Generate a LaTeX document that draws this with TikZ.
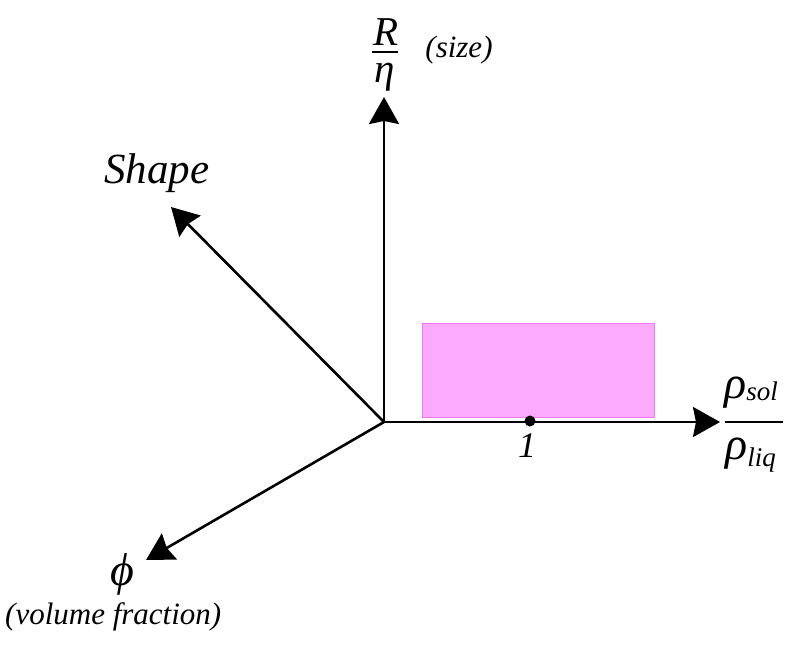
\documentclass[tikz,border=0pt]{standalone}
\usepackage{fontspec}
\setmainfont{Liberation Serif}
\usetikzlibrary{arrows.meta}
\definecolor{boxpink}{RGB}{252,170,252}
\definecolor{boxedge}{RGB}{240,120,240}
\newcommand{\subtxt}[2]{\raisebox{#1}{\fontsize{27}{30}\selectfont #2}}

\begin{document}
\begin{tikzpicture}[x=1pt, y=-1pt,
  axis/.style={line width=2.6pt, -{Stealth[length=27pt, width=30pt, inset=3pt]}},
  fracbar/.style={line width=2pt},
  biglabel/.style={font=\fontsize{43}{50}\selectfont\itshape, inner sep=0pt},
  smalllabel/.style={font=\fontsize{31}{36}\selectfont\itshape, inner sep=0pt},
  mathlabel/.style={font=\fontsize{41}{46}\selectfont\itshape, inner sep=0pt},
  rholabel/.style={font=\fontsize{46}{50}\selectfont\itshape, inner sep=0pt}
  ]
  \useasboundingbox (0,0) rectangle (790,648);

  % axes meet here
  \coordinate (o) at (384,422);
  \coordinate (sizeend) at (384,97);
  \coordinate (densend) at (720,422);
  \coordinate (shapeend) at (171,207);
  \coordinate (phiend) at (146,560);
  \coordinate (dot) at (530,421);

  %% region of interest
  \filldraw[fill=boxpink, draw=boxedge, line width=0.6pt]
  (422,323) rectangle (654,417);

  \draw[axis] (o) -- (sizeend);
  \draw[axis] (o) -- (densend);
  \draw[axis] (o) -- (shapeend);
  \draw[axis] (o) -- (phiend);

  \fill (dot) circle (5.5pt);

  % R over eta
  \node[mathlabel, anchor=base] (rnum) at (386,45) {R};
  \draw[fracbar] (372,52) -- (398,52);
  \node[mathlabel, anchor=base] (rden) at (385,82) {η};
  \node[smalllabel] (sizetxt) at (459,50) {(size)};

  \node[biglabel] (shapetxt) at (157,173) {Shape};

  % rho_sol over rho_liq
  \node[rholabel, anchor=base west] (rhonum) at (724,398) {ρ\subtxt{-2pt}{sol}};
  \draw[fracbar] (725,422) -- (783,422);
  \node[rholabel, anchor=base west] (rhoden) at (725,459) {ρ\subtxt{-7pt}{liq}};

  \node[mathlabel, font=\fontsize{46}{50}\selectfont\itshape] (phitxt) at (122,574) {ϕ};
  \node[smalllabel, anchor=west] (fractxt) at (5,617) {(volume fraction)};
  \node[smalllabel, font=\fontsize{36}{40}\selectfont\itshape] (onetxt) at (527,446) {1};
\end{tikzpicture}
\end{document}
